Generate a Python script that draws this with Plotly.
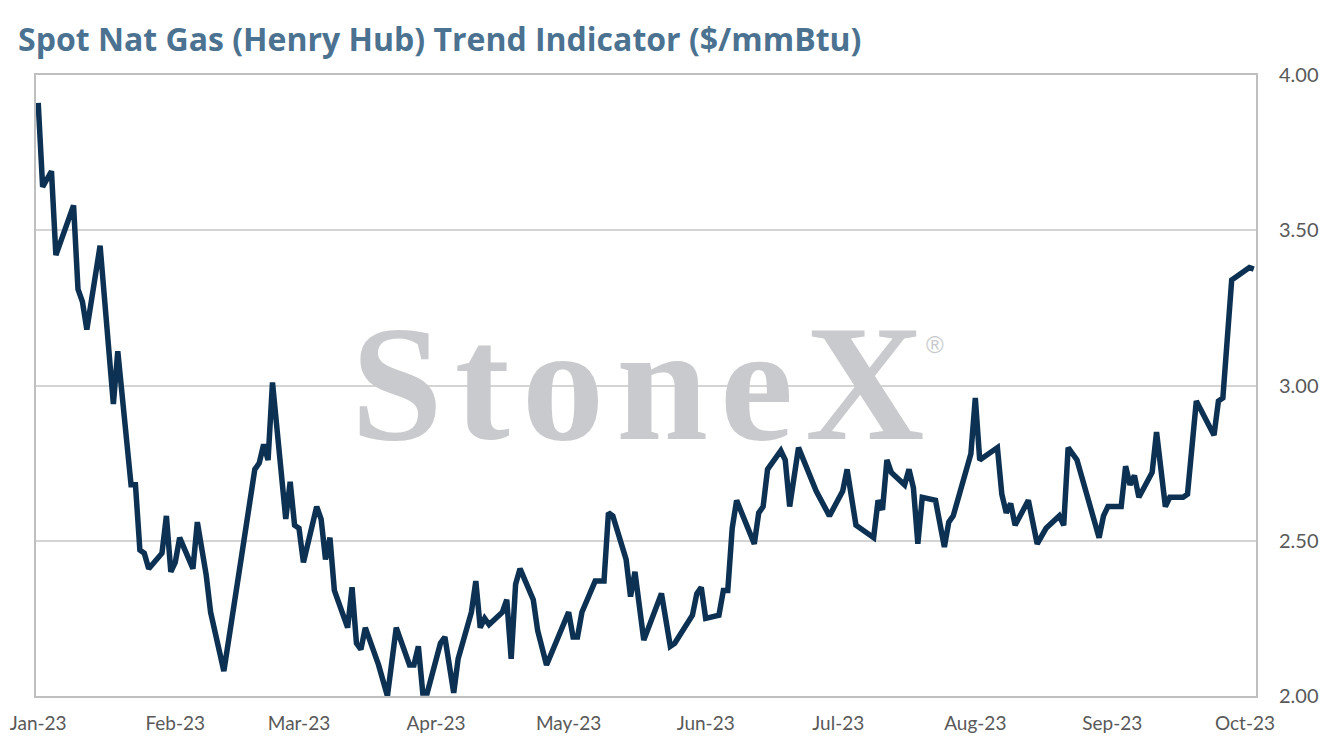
import plotly.graph_objects as go

# spot Henry Hub trend indicator, $/mmBtu
dates = [
    "2023-01-01", "2023-01-02", "2023-01-04", "2023-01-05", "2023-01-09", "2023-01-10",
    "2023-01-11", "2023-01-12", "2023-01-15", "2023-01-18", "2023-01-19", "2023-01-22",
    "2023-01-23", "2023-01-24", "2023-01-25", "2023-01-26", "2023-01-29", "2023-01-30",
    "2023-01-31", "2023-02-01", "2023-02-02", "2023-02-05", "2023-02-06", "2023-02-07",
    "2023-02-08", "2023-02-09", "2023-02-12", "2023-02-16", "2023-02-19", "2023-02-20",
    "2023-02-21", "2023-02-22", "2023-02-23", "2023-02-26", "2023-02-27", "2023-02-28",
    "2023-03-01", "2023-03-02", "2023-03-05", "2023-03-06", "2023-03-07", "2023-03-08",
    "2023-03-09", "2023-03-12", "2023-03-13", "2023-03-14", "2023-03-15", "2023-03-16",
    "2023-03-19", "2023-03-21", "2023-03-23", "2023-03-26", "2023-03-27", "2023-03-28",
    "2023-03-29", "2023-03-30", "2023-04-02", "2023-04-03", "2023-04-05", "2023-04-06",
    "2023-04-09", "2023-04-10", "2023-04-11", "2023-04-12", "2023-04-13", "2023-04-16",
    "2023-04-17", "2023-04-18", "2023-04-19", "2023-04-20", "2023-04-23", "2023-04-24",
    "2023-04-26", "2023-05-01", "2023-05-02", "2023-05-03", "2023-05-04", "2023-05-07",
    "2023-05-08", "2023-05-09", "2023-05-10", "2023-05-11", "2023-05-14", "2023-05-15",
    "2023-05-16", "2023-05-18", "2023-05-22", "2023-05-24", "2023-05-25", "2023-05-28",
    "2023-05-29", "2023-05-30", "2023-05-31", "2023-06-01", "2023-06-04", "2023-06-05",
    "2023-06-06", "2023-06-07", "2023-06-08", "2023-06-12", "2023-06-13", "2023-06-14",
    "2023-06-15", "2023-06-18", "2023-06-19", "2023-06-20", "2023-06-22", "2023-06-26",
    "2023-06-28", "2023-06-29", "2023-07-02", "2023-07-03", "2023-07-05", "2023-07-06",
    "2023-07-09", "2023-07-10", "2023-07-11", "2023-07-12", "2023-07-13", "2023-07-16",
    "2023-07-17", "2023-07-18", "2023-07-19", "2023-07-20", "2023-07-23", "2023-07-25",
    "2023-07-26", "2023-07-27", "2023-07-31", "2023-08-01", "2023-08-02", "2023-08-06",
    "2023-08-07", "2023-08-08", "2023-08-09", "2023-08-10", "2023-08-13", "2023-08-15",
    "2023-08-17", "2023-08-20", "2023-08-21", "2023-08-22", "2023-08-24", "2023-08-29",
    "2023-08-30", "2023-08-31", "2023-09-03", "2023-09-04", "2023-09-05", "2023-09-06",
    "2023-09-07", "2023-09-10", "2023-09-11", "2023-09-13", "2023-09-14", "2023-09-17",
    "2023-09-18", "2023-09-20", "2023-09-24", "2023-09-25", "2023-09-26", "2023-09-28",
    "2023-09-30", "2023-10-02", "2023-10-03",
]
prices = [
    3.91, 3.64, 3.69, 3.42, 3.58, 3.31,
    3.27, 3.18, 3.45, 2.94, 3.11, 2.68,
    2.68, 2.47, 2.46, 2.41, 2.46, 2.58,
    2.40, 2.43, 2.51, 2.41, 2.56, 2.47,
    2.39, 2.27, 2.08, 2.45, 2.73, 2.75,
    2.81, 2.76, 3.01, 2.57, 2.69, 2.55,
    2.54, 2.43, 2.61, 2.57, 2.44, 2.51,
    2.34, 2.22, 2.35, 2.17, 2.15, 2.22,
    2.10, 2.00, 2.22, 2.10, 2.10, 2.16,
    2.01, 2.01, 2.17, 2.19, 2.01, 2.12,
    2.27, 2.37, 2.22, 2.25, 2.23, 2.27,
    2.31, 2.12, 2.36, 2.41, 2.31, 2.21,
    2.10, 2.27, 2.19, 2.19, 2.27, 2.37,
    2.37, 2.37, 2.59, 2.58, 2.44, 2.32,
    2.40, 2.18, 2.33, 2.16, 2.17, 2.24,
    2.26, 2.33, 2.35, 2.25, 2.26, 2.34,
    2.34, 2.54, 2.63, 2.49, 2.59, 2.61,
    2.73, 2.79, 2.76, 2.61, 2.80, 2.66,
    2.61, 2.58, 2.66, 2.73, 2.55, 2.54,
    2.51, 2.63, 2.60, 2.76, 2.72, 2.68,
    2.73, 2.67, 2.49, 2.64, 2.63, 2.48,
    2.56, 2.58, 2.78, 2.96, 2.76, 2.80,
    2.65, 2.59, 2.62, 2.55, 2.63, 2.49,
    2.54, 2.58, 2.55, 2.80, 2.76, 2.51,
    2.58, 2.61, 2.61, 2.74, 2.68, 2.71,
    2.64, 2.72, 2.85, 2.61, 2.64, 2.64,
    2.65, 2.95, 2.84, 2.95, 2.96, 3.34,
    3.36, 3.38, 3.375,
]

month_ticks = ["2023-01-01", "2023-02-01", "2023-03-01", "2023-04-01", "2023-05-01",
               "2023-06-01", "2023-07-01", "2023-08-01", "2023-09-01", "2023-10-01"]
month_labels = ["Jan-23", "Feb-23", "Mar-23", "Apr-23", "May-23",
                "Jun-23", "Jul-23", "Aug-23", "Sep-23", "Oct-23"]

fig = go.Figure()
fig.add_trace(
    go.Scatter(
        x=dates,
        y=prices,
        mode="lines",
        line=dict(color="#0c3152", width=5.5),
        hoverinfo="x+y",
    )
)

# watermark (spacing only between letters, none after the X)
fig.add_annotation(
    text='<span style="letter-spacing:12px">Stone</span>X',
    xref="paper", yref="paper", x=0.493, y=0.503,
    showarrow=False, borderpad=0,
    font=dict(family="Liberation Serif", size=165, color="#c9cacd", weight="bold"),
)
fig.add_annotation(
    text="®",
    xref="paper", yref="paper", x=0.745, y=0.566,
    showarrow=False, borderpad=0,
    font=dict(family="Liberation Sans", size=24, color="#c9cacd"),
)

# page body adds 8px margin, so the figure is a bit smaller than the window
fig.update_layout(
    width=1319,
    height=740,
    margin=dict(l=28, r=71, t=67, b=52),
    paper_bgcolor="white",
    plot_bgcolor="white",
    showlegend=False,
    title=dict(
        text="Spot Nat Gas (Henry Hub) Trend Indicator ($/mmBtu)",
        x=0.0076, xanchor="left", y=0.957, yanchor="middle",
        font=dict(family="Open Sans", size=32, color="#4b7290", weight="bold"),
    ),
    xaxis=dict(
        range=["2022-12-31 12:00", "2023-10-03 12:00"],
        tickvals=month_ticks,
        ticktext=month_labels,
        showgrid=False,
        showline=True, mirror=True, linecolor="#bfbfbf", linewidth=2,
        ticks="",
        ticklabelstandoff=9,
        tickfont=dict(family="Lato", size=19, color="#595959"),
        zeroline=False,
        automargin=False,
    ),
    yaxis=dict(
        range=[2.0, 4.0],
        side="right",
        tickvals=[2.0, 2.5, 3.0, 3.5, 4.0],
        tickformat=".2f",
        showgrid=True, gridcolor="#d4d4d4", gridwidth=1.5,
        showline=True, mirror=True, linecolor="#bfbfbf", linewidth=2,
        ticks="",
        ticklabelstandoff=17,
        tickfont=dict(family="Lato", size=20, color="#595959"),
        zeroline=False,
        automargin=False,
    ),
)

fig.write_html("out.html")
